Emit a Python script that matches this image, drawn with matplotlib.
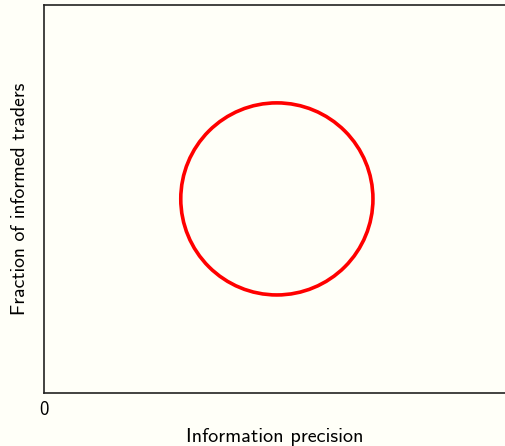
import matplotlib
matplotlib.use("Agg")
import matplotlib.pyplot as plt
from matplotlib.patches import Ellipse

# circle in data units (axes span 0..1 both ways)
center_x = 0.504
center_y = 0.50
width_x = 0.416
height_y = 0.495

x_ticks = [0]
x_tick_labels = ["0"]

bg = "#fffff8"
plt.rcParams["font.family"] = ["cmss10", "DejaVu Sans"]
plt.rcParams["axes.unicode_minus"] = False

fig = plt.figure(figsize=(5.06, 4.46), dpi=100, facecolor=bg)
ax = fig.add_axes([0.087, 0.119, 0.913, 0.870])
ax.set_facecolor(bg)

ax.add_patch(Ellipse((center_x, center_y), width_x, height_y,
                     fill=False, edgecolor="#ff0000", lw=2.6))

ax.set_xlim(0, 1)
ax.set_ylim(0, 1)
ax.set_xticks(x_ticks)
ax.set_xticklabels(x_tick_labels, fontsize=13.5)
ax.set_yticks([])
ax.tick_params(axis="x", length=0, pad=6)
ax.spines["right"].set_visible(False)
for s in ["left", "top", "bottom"]:
    ax.spines[s].set_color("#222222")
    ax.spines[s].set_linewidth(1.2)

ax.set_xlabel("Information precision", fontsize=14.5, labelpad=6)
ax.set_ylabel("Fraction of informed traders", fontsize=14.2, labelpad=11)

fig.savefig("out.png", dpi=100, facecolor=bg)
